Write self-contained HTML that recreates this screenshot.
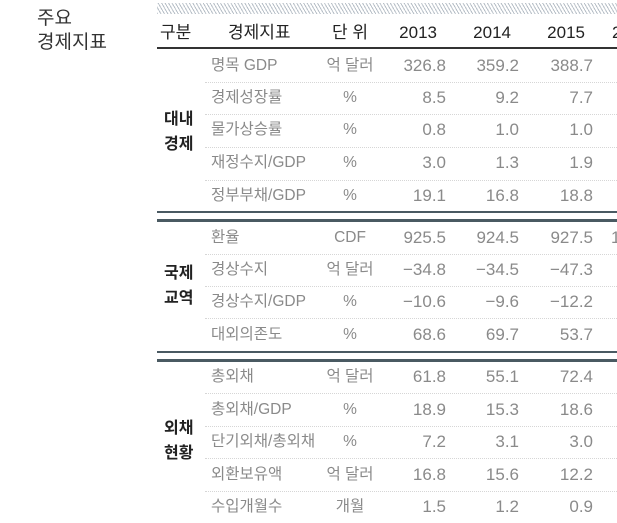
<!DOCTYPE html>
<html><head><meta charset="utf-8"><style>
body{margin:0;width:617px;height:523px;background:#fff;overflow:hidden;position:relative;font-family:"Liberation Sans","Noto Sans CJK KR",sans-serif;}
.t{position:absolute;white-space:nowrap;line-height:20px;}
.h{color:#222;font-size:17px;}
.g{color:#8a8a8a;font-size:15.5px;}
.n{color:#8a8a8a;font-size:17px;}
.b{color:#222;font-size:16px;font-weight:bold;}
.r{text-align:right;width:70px;}
.c{text-align:center;width:80px;}
.ln{position:absolute;left:157px;right:0;}
.sep{position:absolute;left:205px;right:0;height:0;border-top:1px dotted #d6d6d6;}
</style></head><body>
<div class="t" style="left:37px;top:7px;font-size:19px;line-height:24px;color:#333">주요<br>경제지표</div>
<div class="ln" style="top:3px;height:11px;background:repeating-linear-gradient(60deg,#b8c0c8 0 1px,#fff 1px 3px);"></div>
<div class="t h" style="left:160px;top:23px">구분</div>
<div class="t h" style="left:228px;top:23px">경제지표</div>
<div class="t h c" style="left:310px;top:23px">단 위</div>
<div class="t h r" style="left:367px;top:23px">2013</div>
<div class="t h r" style="left:441px;top:23px">2014</div>
<div class="t h r" style="left:515px;top:23px">2015</div>
<div class="t h" style="left:612px;top:23px">2</div>
<div class="ln" style="top:47px;height:2px;background:#333"></div>

<div class="ln" style="top:211px;height:2px;background:#4a5a62"></div>
<div class="ln" style="top:219px;height:3px;background:#4a5a62"></div>
<div class="ln" style="top:351px;height:2px;background:#4a5a62"></div>
<div class="ln" style="top:359px;height:3px;background:#4a5a62"></div>

<div class="sep" style="top:82px"></div><div class="sep" style="top:114px"></div><div class="sep" style="top:147px"></div><div class="sep" style="top:180px"></div>
<div class="sep" style="top:254px"></div><div class="sep" style="top:286px"></div><div class="sep" style="top:318px"></div>
<div class="sep" style="top:393px"></div><div class="sep" style="top:426px"></div><div class="sep" style="top:458px"></div><div class="sep" style="top:491px"></div>

<div class="t b" style="left:164px;top:107px;line-height:25px">대내<br>경제</div>
<div class="t b" style="left:164px;top:261px;line-height:25px">국제<br>교역</div>
<div class="t b" style="left:164px;top:416px;line-height:25px">외채<br>현황</div>

<div id="rows"></div>
<script>
var rows=[
[66,"명목 GDP","억 달러","326.8","359.2","388.7",""],
[98,"경제성장률","%","8.5","9.2","7.7",""],
[130,"물가상승률","%","0.8","1.0","1.0",""],
[163,"재정수지/GDP","%","3.0","1.3","1.9",""],
[196,"정부부채/GDP","%","19.1","16.8","18.8",""],
[238,"환율","CDF","925.5","924.5","927.5","1"],
[270,"경상수지","억 달러","−34.8","−34.5","−47.3",""],
[302,"경상수지/GDP","%","−10.6","−9.6","−12.2",""],
[335,"대외의존도","%","68.6","69.7","53.7",""],
[377,"총외채","억 달러","61.8","55.1","72.4",""],
[410,"총외채/GDP","%","18.9","15.3","18.6",""],
[442,"단기외채/총외채","%","7.2","3.1","3.0",""],
[475,"외환보유액","억 달러","16.8","15.6","12.2",""],
[507,"수입개월수","개월","1.5","1.2","0.9",""]];
var h="";
rows.forEach(function(r){var y=r[0]-10;
h+='<div class="t g" style="left:211px;top:'+y+'px">'+r[1]+'</div>';
h+='<div class="t g c" style="left:310px;top:'+y+'px">'+r[2]+'</div>';
h+='<div class="t n r" style="left:376px;top:'+y+'px">'+r[3]+'</div>';
h+='<div class="t n r" style="left:449px;top:'+y+'px">'+r[4]+'</div>';
h+='<div class="t n r" style="left:523px;top:'+y+'px">'+r[5]+'</div>';
if(r[6])h+='<div class="t n" style="left:611px;top:'+y+'px">'+r[6]+'</div>';});
document.getElementById("rows").innerHTML=h;
</script>
</body></html>
